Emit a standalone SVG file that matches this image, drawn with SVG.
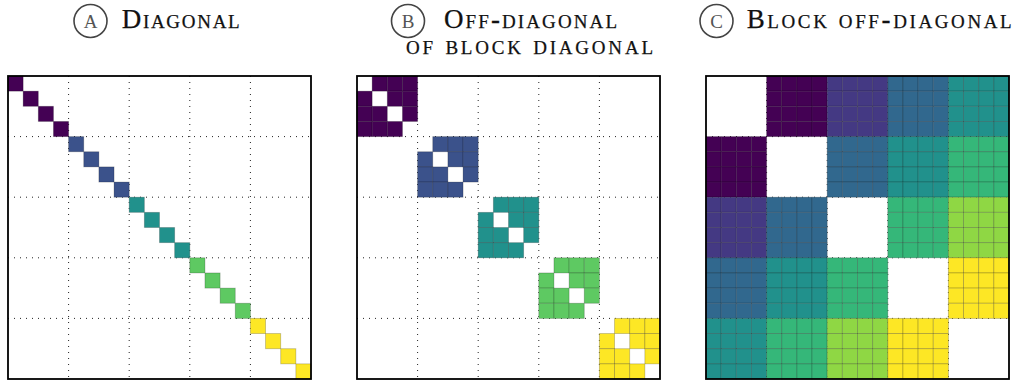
<svg xmlns="http://www.w3.org/2000/svg" xmlns:xlink="http://www.w3.org/1999/xlink" width="1017" height="381" viewBox="0 0 1017 381">
<style>
.ttl{font-family:"Liberation Serif","DejaVu Serif",serif;font-variant:small-caps;font-size:27px;fill:#111;stroke:#111;stroke-width:0.25}
.lbl{font-family:"Liberation Serif","DejaVu Serif",serif;font-size:19px;fill:#555;text-anchor:middle}
.circ{fill:none;stroke:#444;stroke-width:1.6}
.grid{stroke:#222;stroke-width:1;stroke-dasharray:1 5;fill:none}
.cell{stroke:#000;stroke-opacity:0.22;stroke-width:0.9}
.frame{fill:none;stroke:#000;stroke-width:1.8}
</style>
<defs>
<rect id="c" class="cell" width="15.15" height="15.15"/>
<path id="g" class="grid" d="M60.6 0V303M121.2 0V303M181.8 0V303M242.4 0V303M0 60.6H303M0 121.2H303M0 181.8H303M0 242.4H303"/>
<g id="blk">
<use xlink:href="#c" x="0" y="0"/><use xlink:href="#c" x="15.15" y="0"/><use xlink:href="#c" x="30.3" y="0"/><use xlink:href="#c" x="45.45" y="0"/>
<use xlink:href="#c" x="0" y="15.15"/><use xlink:href="#c" x="15.15" y="15.15"/><use xlink:href="#c" x="30.3" y="15.15"/><use xlink:href="#c" x="45.45" y="15.15"/>
<use xlink:href="#c" x="0" y="30.3"/><use xlink:href="#c" x="15.15" y="30.3"/><use xlink:href="#c" x="30.3" y="30.3"/><use xlink:href="#c" x="45.45" y="30.3"/>
<use xlink:href="#c" x="0" y="45.45"/><use xlink:href="#c" x="15.15" y="45.45"/><use xlink:href="#c" x="30.3" y="45.45"/><use xlink:href="#c" x="45.45" y="45.45"/>
</g>
<g id="ob">
<use xlink:href="#c" x="15.15" y="0"/><use xlink:href="#c" x="30.3" y="0"/><use xlink:href="#c" x="45.45" y="0"/>
<use xlink:href="#c" x="0" y="15.15"/><use xlink:href="#c" x="30.3" y="15.15"/><use xlink:href="#c" x="45.45" y="15.15"/>
<use xlink:href="#c" x="0" y="30.3"/><use xlink:href="#c" x="15.15" y="30.3"/><use xlink:href="#c" x="45.45" y="30.3"/>
<use xlink:href="#c" x="0" y="45.45"/><use xlink:href="#c" x="15.15" y="45.45"/><use xlink:href="#c" x="30.3" y="45.45"/>
</g>
</defs>
<rect width="1017" height="381" fill="#fff"/>

<g id="title-a">
<circle class="circ" cx="90.5" cy="21" r="16.5"/>
<text class="lbl" x="90.5" y="27.5">A</text>
<text class="ttl" x="121.7" y="27.5" textLength="118" lengthAdjust="spacing">Diagonal</text>
</g>
<g id="title-b">
<circle class="circ" cx="408" cy="21" r="16.5"/>
<text class="lbl" x="408" y="27.5">B</text>
<text class="ttl" x="444" y="27.5" textLength="173" lengthAdjust="spacing">Off-diagonal</text>
<text class="ttl" x="406" y="53.5" textLength="247" lengthAdjust="spacing">of block diagonal</text>
</g>
<g id="title-c">
<circle class="circ" cx="716.5" cy="21" r="16.5"/>
<text class="lbl" x="716.5" y="27.5">C</text>
<text class="ttl" x="746.7" y="27.5" textLength="265" lengthAdjust="spacing">Block off-diagonal</text>
</g>

<g id="panel-a" transform="translate(8,76)">
<use xlink:href="#g"/>
<g fill="#440154"><use xlink:href="#c" x="0" y="0"/><use xlink:href="#c" x="15.15" y="15.15"/><use xlink:href="#c" x="30.3" y="30.3"/><use xlink:href="#c" x="45.45" y="45.45"/></g>
<g fill="#3b528b"><use xlink:href="#c" x="60.6" y="60.6"/><use xlink:href="#c" x="75.75" y="75.75"/><use xlink:href="#c" x="90.9" y="90.9"/><use xlink:href="#c" x="106.05" y="106.05"/></g>
<g fill="#21918c"><use xlink:href="#c" x="121.2" y="121.2"/><use xlink:href="#c" x="136.35" y="136.35"/><use xlink:href="#c" x="151.5" y="151.5"/><use xlink:href="#c" x="166.65" y="166.65"/></g>
<g fill="#5ec962"><use xlink:href="#c" x="181.8" y="181.8"/><use xlink:href="#c" x="196.95" y="196.95"/><use xlink:href="#c" x="212.1" y="212.1"/><use xlink:href="#c" x="227.25" y="227.25"/></g>
<g fill="#fde725"><use xlink:href="#c" x="242.4" y="242.4"/><use xlink:href="#c" x="257.55" y="257.55"/><use xlink:href="#c" x="272.7" y="272.7"/><use xlink:href="#c" x="287.85" y="287.85"/></g>
<rect class="frame" width="303" height="303"/>
</g>

<g id="panel-b" transform="translate(357,76)">
<use xlink:href="#g"/>
<use xlink:href="#ob" x="0" y="0" fill="#440154"/>
<use xlink:href="#ob" x="60.6" y="60.6" fill="#3b528b"/>
<use xlink:href="#ob" x="121.2" y="121.2" fill="#21918c"/>
<use xlink:href="#ob" x="181.8" y="181.8" fill="#5ec962"/>
<use xlink:href="#ob" x="242.4" y="242.4" fill="#fde725"/>
<rect class="frame" width="303" height="303"/>
</g>

<g id="panel-c" transform="translate(706,76)">
<use xlink:href="#g"/>
<use xlink:href="#blk" x="60.6" y="0" fill="#440154"/>
<use xlink:href="#blk" x="121.2" y="0" fill="#443983"/>
<use xlink:href="#blk" x="181.8" y="0" fill="#31688e"/>
<use xlink:href="#blk" x="242.4" y="0" fill="#21918c"/>
<use xlink:href="#blk" x="0" y="60.6" fill="#440154"/>
<use xlink:href="#blk" x="121.2" y="60.6" fill="#31688e"/>
<use xlink:href="#blk" x="181.8" y="60.6" fill="#21918c"/>
<use xlink:href="#blk" x="242.4" y="60.6" fill="#35b779"/>
<use xlink:href="#blk" x="0" y="121.2" fill="#443983"/>
<use xlink:href="#blk" x="60.6" y="121.2" fill="#31688e"/>
<use xlink:href="#blk" x="181.8" y="121.2" fill="#35b779"/>
<use xlink:href="#blk" x="242.4" y="121.2" fill="#8fd744"/>
<use xlink:href="#blk" x="0" y="181.8" fill="#31688e"/>
<use xlink:href="#blk" x="60.6" y="181.8" fill="#21918c"/>
<use xlink:href="#blk" x="121.2" y="181.8" fill="#35b779"/>
<use xlink:href="#blk" x="242.4" y="181.8" fill="#fde725"/>
<use xlink:href="#blk" x="0" y="242.4" fill="#21918c"/>
<use xlink:href="#blk" x="60.6" y="242.4" fill="#35b779"/>
<use xlink:href="#blk" x="121.2" y="242.4" fill="#8fd744"/>
<use xlink:href="#blk" x="181.8" y="242.4" fill="#fde725"/>
<rect class="frame" width="303" height="303"/>
</g>
</svg>
